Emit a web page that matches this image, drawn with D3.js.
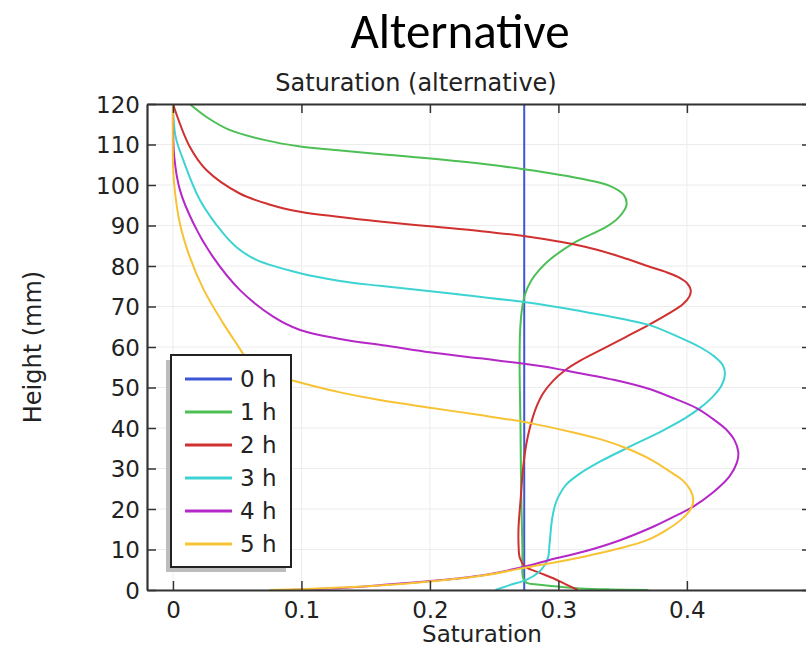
<!DOCTYPE html>
<html>
<head>
<meta charset="utf-8">
<script src="https://cdn.jsdelivr.net/npm/d3@7"></script>
<style>
  html, body { margin: 0; padding: 0; background: #fff; }
  svg { display: block; }
</style>
</head>
<body>
<svg id="chart" width="806" height="649"></svg>
<script>
// Saturation profiles over the column height, one per elapsed time.
const seriesLabels = ["0 h", "1 h", "2 h", "3 h", "4 h", "5 h"];
const seriesColors = ["#3d56d6", "#4cbf55", "#d0302f", "#3dd3d3", "#b428c8", "#f7c234"];

// Each profile: [saturation, height (mm)] in order along the curve.
const profile0h = [[0.2734, 0], [0.2734, 120]];
const profile1h = [
  [0.370, 0], [0.340, 0.15], [0.317, 0.4], [0.301, 0.8], [0.285, 1.3], [0.275, 1.8],
  [0.2725, 3], [0.272, 10], [0.271, 25], [0.2705, 40], [0.2698, 56], [0.2702, 64],
  [0.2715, 69], [0.274, 73], [0.279, 76.5], [0.285, 79], [0.293, 81.5], [0.3115, 85.6],
  [0.3375, 89.7], [0.347, 92.0], [0.353, 95.1], [0.351, 97.5], [0.340, 99.8], [0.317, 101.6],
  [0.290, 103.1], [0.273, 103.9], [0.230, 105.6], [0.169, 107.4], [0.120, 108.8],
  [0.099, 109.5], [0.070, 111.2], [0.044, 113.6], [0.027, 116.6], [0.013, 120]
];
const profile2h = [
  [0.315, 0], [0.305, 1.5], [0.296, 2.9], [0.285, 4.3], [0.274, 5.8], [0.270, 7.9],
  [0.269, 11], [0.269, 15.6], [0.2705, 22], [0.2726, 30.4], [0.275, 36], [0.278, 40.3],
  [0.282, 44.5], [0.288, 48.5], [0.296, 51.7], [0.305, 54.2], [0.318, 56.8], [0.335, 59.6],
  [0.352, 62.4], [0.370, 65.4], [0.386, 68.3], [0.397, 70.6], [0.402, 72.5], [0.403, 74.1],
  [0.400, 75.8], [0.393, 77.3], [0.383, 78.6], [0.371, 79.8], [0.350, 82.1], [0.330, 84.0],
  [0.310, 85.5], [0.290, 86.6], [0.273, 87.4], [0.240, 88.6], [0.200, 89.8], [0.161, 91.0],
  [0.130, 92.1], [0.099, 93.4], [0.075, 95.2], [0.052, 97.9], [0.026, 103.7], [0.013, 109.5],
  [0.0, 120]
];
const profile3h = [
  [0.251, 0], [0.262, 1.2], [0.275, 2.5], [0.284, 4.2], [0.289, 6], [0.292, 8],
  [0.293, 11], [0.295, 17.3], [0.297, 20.5], [0.2999, 23], [0.306, 26], [0.317, 28.8],
  [0.333, 31.8], [0.353, 35], [0.382, 39.5], [0.399, 42.5], [0.410, 44.9], [0.420, 47.7],
  [0.427, 50.5], [0.4296, 53.2], [0.428, 55.5], [0.422, 57.5], [0.410, 60], [0.392, 62.7],
  [0.371, 65.4], [0.350, 66.9], [0.325, 68.4], [0.300, 69.8], [0.273, 71.1], [0.220, 73.1],
  [0.161, 75.1], [0.130, 76.3], [0.099, 78.2], [0.065, 81.5], [0.050, 84.5], [0.039, 88.1],
  [0.021, 96.3], [0.008, 106.2], [0.002, 112], [0.0, 120]
];
const profile4h = [
  [0.090, 0], [0.117, 0.3], [0.140, 0.7], [0.161, 1.2], [0.200, 2.2], [0.240, 3.6],
  [0.274, 5.8], [0.293, 7.4], [0.320, 9.5], [0.348, 12.3], [0.375, 15.8], [0.393, 18.6],
  [0.405, 20.6], [0.420, 24], [0.433, 28], [0.439, 31.5], [0.440, 34.1], [0.437, 37],
  [0.430, 39.8], [0.420, 42.3], [0.4075, 44.9], [0.390, 47.3], [0.369, 49.8], [0.343, 51.9],
  [0.304, 54.3], [0.286, 55.3], [0.239, 57.2], [0.200, 58.7], [0.169, 60.2], [0.130, 62.0],
  [0.099, 64.2], [0.078, 67.5], [0.052, 74.1], [0.031, 82.3], [0.016, 90.5], [0.0054, 98.8],
  [0.001, 107], [0.0, 120]
];
const profile5h = [
  [0.075, 0], [0.100, 0.2], [0.130, 0.6], [0.161, 1.1], [0.200, 2.1], [0.240, 3.5],
  [0.274, 5.5], [0.300, 7.0], [0.325, 8.6], [0.348, 10.3], [0.369, 12.3], [0.384, 14.8],
  [0.396, 17.5], [0.403, 20], [0.405, 22.2], [0.403, 24.5], [0.397, 27], [0.389, 28.8],
  [0.372, 32.2], [0.353, 35], [0.335, 37], [0.310, 39], [0.278, 41.2], [0.239, 43.2],
  [0.200, 45], [0.161, 46.9], [0.130, 48.8], [0.110, 50.3], [0.091, 51.9], [0.075, 53.3],
  [0.064, 55], [0.057, 57.2], [0.051, 60.1], [0.039, 65.9], [0.024, 74.1], [0.013, 82.3],
  [0.0054, 90.5], [0.001, 100], [0.0, 106], [0.0, 120]
];
const profiles = [profile0h, profile1h, profile2h, profile3h, profile4h, profile5h];

const xTicks = [0, 0.1, 0.2, 0.3, 0.4];
const yTicks = [0, 10, 20, 30, 40, 50, 60, 70, 80, 90, 100, 110, 120];

const pageTitle = "Alternative";
const plotTitle = "Saturation (alternative)";
const xLabel = "Saturation";
const yLabel = "Height (mm)";

const svg = d3.select("#chart");
const margin = { left: 147, right: 811, top: 104, bottom: 590 };
const tickFont = "'DejaVu Sans', sans-serif";
const textColor = "#222";

const x = d3.scaleLinear().domain([-0.0202, 0.4966]).range([margin.left, margin.right]);
const y = d3.scaleLinear().domain([0, 120]).range([margin.bottom, margin.top]);

// Page heading and plot title
svg.append("text")
  .attr("x", 460).attr("y", 48)
  .attr("text-anchor", "middle")
  .attr("font-family", "Carlito, Lato, 'Open Sans', sans-serif")
  .attr("font-size", 49)
  .attr("fill", "#000")
  .text(pageTitle);

svg.append("text")
  .attr("x", 416).attr("y", 91)
  .attr("text-anchor", "middle")
  .attr("font-family", tickFont)
  .attr("font-size", 24)
  .attr("fill", textColor)
  .text(plotTitle);

// Grid lines
const grid = svg.append("g").attr("stroke", "#ececec").attr("stroke-width", 1);
grid.selectAll("line.gx").data(xTicks).join("line")
  .attr("x1", d => x(d)).attr("x2", d => x(d))
  .attr("y1", margin.top).attr("y2", margin.bottom);
grid.selectAll("line.gy").data(yTicks).join("line")
  .attr("x1", margin.left).attr("x2", margin.right)
  .attr("y1", d => y(d)).attr("y2", d => y(d));

// Curves, clipped to the plot box
svg.append("clipPath").attr("id", "plotclip")
  .append("rect")
  .attr("x", margin.left).attr("y", margin.top)
  .attr("width", margin.right - margin.left).attr("height", margin.bottom - margin.top);

const line = d3.line()
  .x(d => x(d[0]))
  .y(d => y(d[1]))
  .curve(d3.curveCatmullRom.alpha(0.5));

svg.append("g").attr("clip-path", "url(#plotclip)")
  .selectAll("path").data(profiles).join("path")
  .attr("d", line)
  .attr("fill", "none")
  .attr("stroke", (d, i) => seriesColors[i])
  .attr("stroke-width", 2);

// Axes: ticks point inward on all four sides
const tickLen = 9;
const axisColor = "#333";
const bottomAxis = svg.append("g")
  .attr("transform", `translate(0,${margin.bottom})`)
  .call(d3.axisBottom(x).tickValues(xTicks).tickSizeInner(-tickLen).tickSizeOuter(0).tickPadding(12)
    .tickFormat(d3.format("~g")));
const leftAxis = svg.append("g")
  .attr("transform", `translate(${margin.left},0)`)
  .call(d3.axisLeft(y).tickValues(yTicks).tickSizeInner(-tickLen).tickSizeOuter(0).tickPadding(7));
const topAxis = svg.append("g")
  .attr("transform", `translate(0,${margin.top})`)
  .call(d3.axisTop(x).tickValues(xTicks).tickSizeInner(-tickLen).tickSizeOuter(0).tickFormat(""));
const rightAxis = svg.append("g")
  .attr("transform", `translate(${margin.right},0)`)
  .call(d3.axisRight(y).tickValues(yTicks).tickSizeInner(-tickLen).tickSizeOuter(0).tickFormat(""));

[bottomAxis, leftAxis, topAxis, rightAxis].forEach(g => {
  g.select(".domain").attr("stroke", axisColor).attr("stroke-width", 2.2);
  g.selectAll(".tick line").attr("stroke", axisColor).attr("stroke-width", 1.5);
  g.selectAll(".tick text")
    .attr("font-family", tickFont)
    .attr("font-size", 23)
    .attr("fill", textColor);
});
bottomAxis.selectAll(".tick text").attr("dy", "0.71em");
leftAxis.selectAll(".tick text").attr("dy", "0.36em");

// Axis labels
svg.append("text")
  .attr("x", 482).attr("y", 642)
  .attr("text-anchor", "middle")
  .attr("font-family", tickFont)
  .attr("font-size", 23)
  .attr("fill", textColor)
  .text(xLabel);

svg.append("text")
  .attr("transform", "translate(41,347) rotate(-90)")
  .attr("text-anchor", "middle")
  .attr("font-family", tickFont)
  .attr("font-size", 24)
  .attr("fill", textColor)
  .text(yLabel);

// Legend with drop shadow
const legend = { x: 171, y: 355, w: 120, h: 212 };
svg.append("rect")
  .attr("x", legend.x - 5).attr("y", legend.y + 5)
  .attr("width", legend.w).attr("height", legend.h)
  .attr("fill", "#bdbdbd");
svg.append("rect")
  .attr("x", legend.x).attr("y", legend.y)
  .attr("width", legend.w).attr("height", legend.h)
  .attr("fill", "#fff")
  .attr("stroke", "#222").attr("stroke-width", 2);

const rowY = d3.scalePoint().domain(seriesLabels).range([legend.y + 24, legend.y + 189]);
const entries = svg.append("g").selectAll("g").data(seriesLabels).join("g")
  .attr("transform", d => `translate(0,${rowY(d)})`);
entries.append("line")
  .attr("x1", 185).attr("x2", 232)
  .attr("stroke", (d, i) => seriesColors[i])
  .attr("stroke-width", 3);
entries.append("text")
  .attr("x", 240).attr("dy", "0.36em")
  .attr("font-family", tickFont)
  .attr("font-size", 23)
  .attr("fill", textColor)
  .text(d => d);
</script>
</body>
</html>
